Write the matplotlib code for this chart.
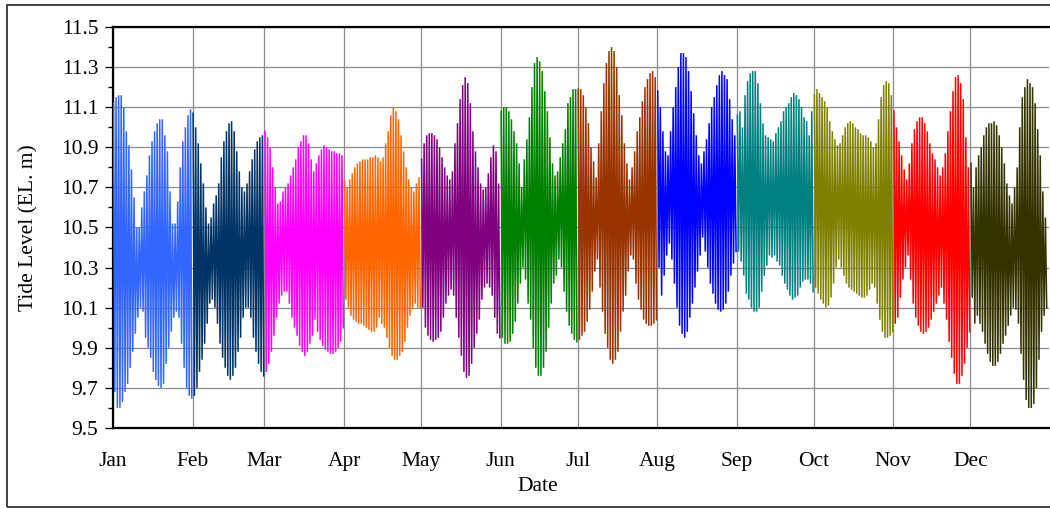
import matplotlib
matplotlib.use("Agg")
import matplotlib.pyplot as plt
import numpy as np

months = ["Jan", "Feb", "Mar", "Apr", "May", "Jun", "Jul", "Aug", "Sep", "Oct", "Nov", "Dec"]
month_days = [31, 28, 31, 30, 31, 30, 31, 31, 30, 31, 30, 31]
colors = ["#3366FF", "#003366", "#FF00FF", "#FF6600", "#800080", "#008000",
          "#993300", "#0000FF", "#008080", "#808000", "#FF0000", "#333300"]

# daily high water levels (EL. m)
jan_high = [11.12, 11.15, 11.16, 11.16, 11.10, 10.98, 10.91, 10.79, 10.65, 10.50, 10.50, 10.60, 10.68, 10.76,
            10.86, 10.93, 10.98, 11.02, 11.04, 11.04, 10.96, 10.88, 10.68, 10.52, 10.52, 10.63, 10.80, 10.93,
            11.00, 11.06, 11.09]
feb_high = [11.07, 11.00, 10.92, 10.82, 10.72, 10.60, 10.52, 10.55, 10.62, 10.66, 10.72, 10.85, 10.93, 10.98,
            11.02, 11.03, 10.98, 10.88, 10.78, 10.70, 10.68, 10.72, 10.78, 10.84, 10.89, 10.93, 10.95, 10.96]
mar_high = [10.98, 10.95, 10.90, 10.80, 10.70, 10.62, 10.63, 10.68, 10.70, 10.72, 10.76, 10.80, 10.84, 10.90,
            10.93, 10.96, 10.96, 10.92, 10.84, 10.78, 10.82, 10.86, 10.89, 10.91, 10.90, 10.89, 10.88, 10.88,
            10.87, 10.87, 10.86]
apr_high = [10.73, 10.70, 10.74, 10.77, 10.80, 10.82, 10.83, 10.84, 10.84, 10.84, 10.85, 10.85, 10.86, 10.85,
            10.83, 10.85, 10.92, 10.98, 11.06, 11.10, 11.08, 11.04, 10.96, 10.88, 10.80, 10.74, 10.70, 10.68,
            10.72, 10.75]
may_high = [10.84, 10.92, 10.96, 10.97, 10.97, 10.96, 10.94, 10.90, 10.85, 10.80, 10.76, 10.74, 10.78, 10.92,
            11.02, 11.14, 11.21, 11.25, 11.22, 11.12, 10.98, 10.88, 10.80, 10.72, 10.69, 10.70, 10.77, 10.85,
            10.91, 10.88, 10.72]
jun_high = [11.08, 11.10, 11.10, 11.08, 11.04, 10.98, 10.92, 10.82, 10.70, 10.84, 10.94, 11.05, 11.20, 11.32,
            11.35, 11.33, 11.28, 11.18, 11.08, 10.95, 10.82, 10.76, 10.78, 10.85, 10.92, 10.99, 11.12, 11.15,
            11.19, 11.19]
jul_high = [11.19, 11.19, 11.16, 11.10, 11.02, 10.90, 10.83, 10.75, 10.92, 11.08, 11.22, 11.32, 11.38, 11.40,
            11.38, 11.30, 11.16, 11.06, 10.92, 10.82, 10.74, 10.80, 10.88, 10.98, 11.05, 11.13, 11.20, 11.24,
            11.27, 11.28, 11.25]
aug_high = [11.18, 11.10, 10.98, 10.88, 10.86, 10.98, 11.10, 11.20, 11.30, 11.37, 11.37, 11.35, 11.28, 11.18,
            11.07, 10.96, 10.86, 10.82, 10.88, 10.94, 11.02, 11.10, 11.15, 11.21, 11.26, 11.28, 11.26, 11.24,
            11.14, 11.04, 10.96]
sep_high = [11.06, 11.08, 11.00, 11.16, 11.23, 11.27, 11.28, 11.28, 11.22, 11.12, 11.02, 10.96, 10.95, 10.94,
            10.93, 10.97, 11.00, 11.03, 11.08, 11.10, 11.12, 11.15, 11.17, 11.16, 11.14, 11.10, 11.05, 11.03,
            10.96, 11.08]
oct_high = [11.16, 11.19, 11.17, 11.15, 11.13, 11.10, 11.03, 10.98, 10.94, 10.91, 10.92, 10.96, 11.00, 11.02,
            11.03, 11.02, 11.00, 10.99, 10.97, 10.96, 10.96, 10.95, 10.93, 10.90, 10.92, 11.04, 11.15, 11.21,
            11.23, 11.22, 11.16]
nov_high = [11.08, 11.00, 10.93, 10.86, 10.79, 10.74, 10.82, 10.92, 10.99, 11.03, 11.05, 11.05, 11.02, 10.98,
            10.92, 10.87, 10.84, 10.80, 10.76, 10.80, 10.87, 10.98, 11.08, 11.18, 11.25, 11.26, 11.22, 11.14,
            10.95, 10.80]
dec_high = [10.82, 10.70, 10.80, 10.86, 10.90, 10.96, 11.00, 11.02, 11.02, 11.03, 11.01, 10.96, 10.90, 10.82,
            10.72, 10.66, 10.62, 10.70, 10.80, 11.00, 11.15, 11.20, 11.24, 11.22, 11.20, 11.12, 10.99, 10.86,
            10.68, 10.55]

# daily low water levels (EL. m)
jan_low = [9.68, 9.60, 9.60, 9.63, 9.68, 9.72, 9.80, 9.88, 9.97, 10.05, 10.10, 10.08, 9.95, 9.90, 9.85, 9.78,
           9.74, 9.71, 9.70, 9.72, 9.82, 9.90, 9.98, 10.05, 10.08, 10.05, 9.92, 9.80, 9.70, 9.66, 9.65]
feb_low = [9.66, 9.70, 9.78, 9.84, 9.92, 10.02, 10.12, 10.14, 10.10, 10.02, 9.92, 9.85, 9.80, 9.76, 9.74, 9.76,
           9.80, 9.88, 9.95, 10.05, 10.10, 10.10, 10.05, 9.95, 9.88, 9.82, 9.78, 9.76]
mar_low = [9.78, 9.82, 9.88, 9.96, 10.05, 10.12, 10.16, 10.18, 10.18, 10.12, 10.05, 10.00, 9.96, 9.91, 9.88,
           9.86, 9.88, 9.92, 9.96, 10.04, 9.98, 9.94, 9.91, 9.89, 9.88, 9.87, 9.87, 9.88, 9.90, 9.93, 10.00]
apr_low = [10.14, 10.10, 10.06, 10.04, 10.03, 10.02, 10.02, 10.01, 10.00, 9.99, 9.98, 9.98, 10.00, 10.05, 10.02,
           10.00, 9.95, 9.90, 9.86, 9.84, 9.84, 9.86, 9.88, 9.93, 10.00, 10.06, 10.10, 10.12, 10.10, 10.10]
may_low = [10.10, 10.00, 9.96, 9.94, 9.93, 9.94, 9.95, 9.98, 10.05, 10.12, 10.16, 10.19, 10.16, 10.05, 9.95, 9.86,
           9.78, 9.75, 9.76, 9.82, 9.90, 9.97, 10.04, 10.14, 10.20, 10.22, 10.20, 10.16, 10.05, 9.97, 9.95]
jun_low = [9.95, 9.92, 9.92, 9.93, 9.97, 10.03, 10.12, 10.22, 10.30, 10.24, 10.12, 10.04, 9.90, 9.80, 9.76, 9.76,
           9.80, 9.88, 10.00, 10.12, 10.22, 10.26, 10.34, 10.30, 10.18, 10.08, 10.01, 9.97, 9.94, 9.93]
jul_low = [9.94, 9.96, 9.98, 10.03, 10.09, 10.18, 10.28, 10.34, 10.20, 10.08, 9.97, 9.90, 9.84, 9.82, 9.84, 9.88,
           9.98, 10.08, 10.16, 10.28, 10.36, 10.34, 10.22, 10.14, 10.09, 10.04, 10.02, 10.01, 10.01, 10.02, 10.04]
aug_low = [10.30, 10.16, 10.26, 10.36, 10.42, 10.34, 10.22, 10.10, 10.01, 9.97, 9.95, 9.98, 10.05, 10.12, 10.20,
           10.28, 10.36, 10.45, 10.38, 10.30, 10.22, 10.17, 10.12, 10.09, 10.08, 10.09, 10.12, 10.18, 10.26,
           10.32, 10.38]
sep_low = [10.38, 10.33, 10.26, 10.17, 10.14, 10.10, 10.08, 10.08, 10.10, 10.18, 10.26, 10.31, 10.36, 10.35,
           10.36, 10.33, 10.31, 10.26, 10.22, 10.19, 10.16, 10.14, 10.15, 10.16, 10.20, 10.23, 10.24, 10.24,
           10.22, 10.18]
oct_low = [10.20, 10.17, 10.14, 10.12, 10.10, 10.11, 10.15, 10.22, 10.30, 10.34, 10.30, 10.26, 10.22, 10.20,
           10.19, 10.18, 10.17, 10.16, 10.15, 10.15, 10.16, 10.19, 10.22, 10.20, 10.12, 10.04, 9.98, 9.95, 9.95,
           9.96, 9.98]
nov_low = [10.02, 10.05, 10.15, 10.24, 10.30, 10.36, 10.24, 10.12, 10.05, 10.01, 9.98, 9.97, 9.98, 10.00, 10.04,
           10.08, 10.12, 10.16, 10.20, 10.12, 10.04, 9.93, 9.85, 9.77, 9.72, 9.72, 9.76, 9.82, 9.90, 9.98]
dec_low = [10.15, 10.02, 10.06, 10.02, 9.98, 9.92, 9.87, 9.83, 9.81, 9.81, 9.83, 9.87, 9.92, 9.96, 10.01, 10.06,
           10.10, 10.09, 10.02, 9.87, 9.74, 9.64, 9.60, 9.60, 9.62, 9.70, 9.84, 9.98, 10.06, 10.10]

highs = [jan_high, feb_high, mar_high, apr_high, may_high, jun_high,
         jul_high, aug_high, sep_high, oct_high, nov_high, dec_high]
lows = [jan_low, feb_low, mar_low, apr_low, may_low, jun_low,
        jul_low, aug_low, sep_low, oct_low, nov_low, dec_low]

y_ticks = [9.5, 9.7, 9.9, 10.1, 10.3, 10.5, 10.7, 10.9, 11.1, 11.3, 11.5]

plt.rcParams['font.family'] = ['Liberation Serif', 'DejaVu Serif']
FS = 15.5

fig = plt.figure(figsize=(10.5, 5.08), dpi=100)
ax = fig.add_axes([113 / 1050, 80 / 508, 936 / 1050, 401 / 508])

month_start = np.concatenate([[0], np.cumsum(month_days)[:-1]])
for m in range(12):
    hi = np.array(highs[m])
    lo = np.array(lows[m])
    d = month_start[m] + np.arange(len(hi))
    xs = np.empty(2 * len(hi))
    ys = np.empty(2 * len(hi))
    xs[0::2] = d + 0.2
    xs[1::2] = d + 0.7
    ys[0::2] = hi
    ys[1::2] = lo
    ax.plot(xs, ys, color=colors[m], lw=1.1, solid_joinstyle='miter', zorder=3)

ax.set_xlim(0, 364.6)
ax.set_ylim(9.5, 11.5)
ax.set_xticks(month_start)
ax.set_xticklabels(months)
ax.set_yticks(y_ticks)
ax.set_yticklabels([f"{v:.1f}" for v in y_ticks])
ax.set_yticks(np.arange(9.6, 11.5, 0.2), minor=True)
ax.grid(True, which='major', color='#8c8c8c', lw=0.9, zorder=0)
ax.tick_params(axis='x', length=0, pad=17, labelsize=FS)
ax.tick_params(axis='y', which='major', length=5.5, width=1.0, direction='out', labelsize=FS, pad=5)
ax.tick_params(axis='y', which='minor', length=3.5, width=1.0, direction='out')
for s in ax.spines.values():
    s.set_linewidth(1.6)
    s.set_color('black')
ax.spines['right'].set_visible(False)
ax.set_xlabel("Date", fontsize=FS)
ax.xaxis.set_label_coords((538 - 113) / 936, -0.122)
ax.xaxis.label.set_va('top')
ax.set_ylabel("Tide Level (EL. m)", fontsize=FS)
ax.yaxis.set_label_coords((29 - 113) / 936, 0.5)
ax.yaxis.label.set_va('center')

fig.patches.append(plt.Rectangle((6.5 / 1050, 1.5 / 508), 1.2, (503 - 1.5) / 508,
                                 transform=fig.transFigure, fill=False,
                                 edgecolor='#222222', lw=1.2))

fig.savefig("out.png", dpi=100)
